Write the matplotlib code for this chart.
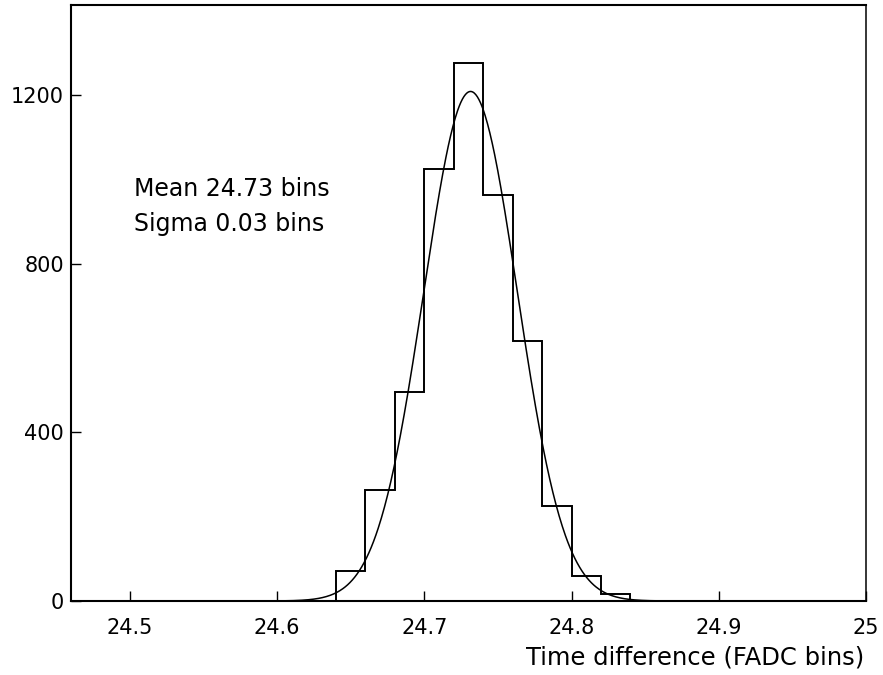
import numpy as np
import matplotlib
matplotlib.use("Agg")
import matplotlib.pyplot as plt

plt.rcParams['font.family'] = ['DejaVu Sans']

# Histogram of time differences (bin width 0.02 FADC bins)
bin_edges = [24.64, 24.66, 24.68, 24.70, 24.72, 24.74, 24.76, 24.78, 24.80, 24.82, 24.84]
counts = [70, 263, 496, 1024, 1275, 963, 617, 226, 59, 16]

# Gaussian fit parameters
fit_amplitude = 1208
fit_mean = 24.7314
fit_sigma = 0.0318

x_ticks = [24.5, 24.6, 24.7, 24.8, 24.9, 25.0]
x_tick_labels = ["24.5", "24.6", "24.7", "24.8", "24.9", "25"]
y_ticks = [0, 400, 800, 1200]
y_tick_labels = ["0", "400", "800", "1200"]

fig = plt.figure(figsize=(8.83, 6.75), dpi=100)
ax = fig.add_axes([71 / 883, 1 - 601 / 675, (866 - 71) / 883, (601 - 5) / 675])

# Histogram outline
ax.stairs(counts, bin_edges, color="black", linewidth=1.4, baseline=0)

# Fitted gaussian
xf = np.linspace(24.58, 24.90, 600)
yf = fit_amplitude * np.exp(-0.5 * ((xf - fit_mean) / fit_sigma) ** 2)
ax.plot(xf, yf, color="black", linewidth=1.1)

ax.set_xlim(24.46, 25.0)
ax.set_ylim(0, 1413)

ax.set_xticks(x_ticks)
ax.set_xticklabels(x_tick_labels)
ax.set_yticks(y_ticks)
ax.set_yticklabels(y_tick_labels)
ax.tick_params(axis="x", direction="in", length=7, width=1.0, pad=12, labelsize=15)
ax.tick_params(axis="y", direction="in", length=7, width=1.0, pad=5, labelsize=15)
ax.minorticks_off()

for side in ["left", "bottom", "top"]:
    ax.spines[side].set_linewidth(1.5)
ax.spines["right"].set_linewidth(1.1)

fig.text(134 / 883, 1 - 196 / 675, "Mean 24.73 bins", fontsize=17, ha="left", va="baseline")
fig.text(134 / 883, 1 - 231 / 675, "Sigma 0.03 bins", fontsize=17, ha="left", va="baseline")

fig.text(864 / 883, 1 - 657 / 675, "Time difference (FADC bins)", fontsize=17.5,
         ha="right", va="center")

fig.savefig("out.png", dpi=100, facecolor="white")
